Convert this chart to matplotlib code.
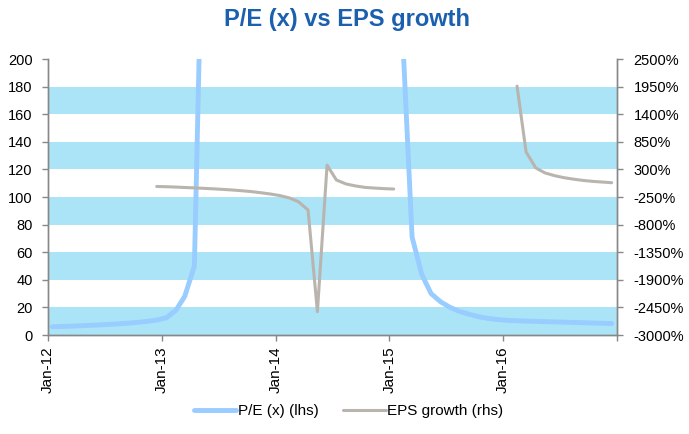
import numpy as np
import pandas as pd
import matplotlib
matplotlib.use("Agg")
import matplotlib.pyplot as plt
from matplotlib.ticker import FuncFormatter

plt.rcParams['font.family'] = ['Liberation Sans', 'DejaVu Sans']

# monthly observations, Jan-12 .. Dec-16 (plotted mid-month)
months = pd.date_range('2012-01-01', periods=60, freq='MS') + pd.Timedelta(days=14)

nan = np.nan
pe_ratio = np.array([
    6.0, 6.2, 6.4, 6.7, 7.0, 7.3, 7.7, 8.1, 8.6, 9.2, 9.9, 10.8,           # 2012
    12.5, 18, 28, 50, 350, nan, nan, nan, nan, nan, nan, nan,             # 2013
    nan, nan, nan, nan, nan, nan, nan, nan, nan, nan, nan, nan,           # 2014
    900, 205, 71, 44, 30, 24, 20, 17, 15, 13.2, 12.0, 11.2,               # 2015
    10.6, 10.3, 10.1, 9.9, 9.7, 9.5, 9.3, 9.1, 8.9, 8.7, 8.5, 8.3,        # 2016
])

eps_growth = np.array([
    nan, nan, nan, nan, nan, nan, nan, nan, nan, nan, nan, -40,
    -45, -52, -60, -68, -77, -87, -98, -110, -125, -142, -165, -190,
    -222, -270, -344, -509, -2535, 385, 89, 10, -30, -58, -72, -83,
    -91, nan, nan, nan, nan, nan, nan, nan, nan, nan, nan, nan,
    nan, 1960, 650, 330, 230, 175, 135, 105, 80, 62, 48, 35,
])

year_ticks = pd.date_range('2012-01-01', '2016-01-01', freq='YS')

fig = plt.figure(figsize=(6.89, 4.34), dpi=100)
ax = fig.add_axes([0.0697, 0.2281, 0.8258, 0.6359])
ax2 = ax.twinx()

# alternating shaded bands
for lo in range(0, 200, 40):
    ax.axhspan(lo, lo + 20, color='#ABE4F7', lw=0, zorder=0)

ax.plot(months, pe_ratio, color='#99CCFF', lw=3.5, solid_capstyle='round',
        solid_joinstyle='round', label='P/E (x) (lhs)', zorder=2)
ax2.plot(months, eps_growth, color='#B9B4AE', lw=2.2, solid_capstyle='round',
         solid_joinstyle='round', label='EPS growth (rhs)', zorder=3)

ax.set_xlim(pd.Timestamp('2012-01-01'), pd.Timestamp('2017-01-01'))
ax.set_ylim(0, 200)
ax.set_yticks(range(0, 201, 20))
ax2.set_ylim(-3000, 2500)
ax2.set_yticks(range(-3000, 2501, 550))
ax2.yaxis.set_major_formatter(FuncFormatter(lambda v, p: '%d%%' % v))

ax.set_xticks(list(year_ticks) + [pd.Timestamp('2017-01-01')])
ax.set_xticklabels([d.strftime('%b-%y') for d in year_ticks] + [''], rotation=90)

spine_col = '#888888'
for a in (ax, ax2):
    for s in a.spines.values():
        s.set_color(spine_col)
        s.set_linewidth(1.0)
    a.spines['top'].set_visible(False)
    a.tick_params(colors=spine_col, labelcolor='black', labelsize=10.5,
                  direction='out', length=4, width=1)
ax.tick_params(axis='y', pad=7)
ax.tick_params(axis='x', pad=4, labelsize=11)
ax2.tick_params(axis='y', pad=8)

fig.text(0.503, 0.955, 'P/E (x) vs EPS growth', ha='center', va='center',
         fontsize=17, fontweight='bold', color='#1B5FAF')

h1, l1 = ax.get_legend_handles_labels()
h2, l2 = ax2.get_legend_handles_labels()
fig.legend(h1 + h2, l1 + l2, loc='center', bbox_to_anchor=(0.506, 0.052),
           ncol=2, frameon=False, fontsize=11, handlelength=2.8,
           handletextpad=0.1, columnspacing=1.6)

fig.savefig('out.png', dpi=100)
